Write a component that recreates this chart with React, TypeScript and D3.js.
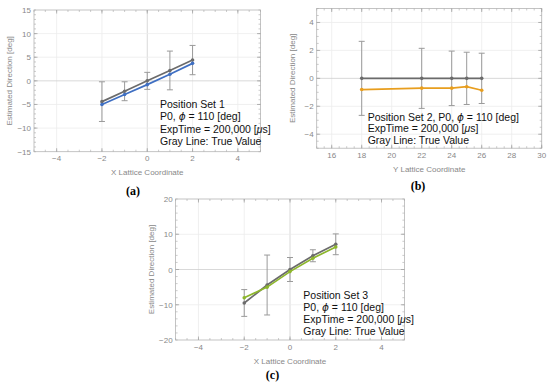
import React from "react";
import * as d3 from "d3";

// ---------- data ----------
const xA = [-2, -1, 0, 1, 2];
const trueA = [-4.4, -2.2, 0, 2.2, 4.4];
const estA = [-5.0, -2.9, -0.8, 1.4, 3.7];
const errA = [4.2, 2.0, 1.8, 4.1, 3.1];

const xB = [18, 22, 24, 25, 26];
const trueB = [0, 0, 0, 0, 0];
const estB = [-0.8, -0.7, -0.7, -0.6, -0.85];
const errB = [2.65, 2.15, 1.95, 1.87, 1.8];

const xC = [-2, -1, 0, 1, 2];
const trueC = [-9.5, -4.4, 0, 3.9, 7.15];
const estC = [-8.0, -5.0, -0.6, 3.2, 6.4];
const errC = [3.8, 8.5, 3.4, 1.7, 2.95];

const textA = ["Position Set 1", "P0, ϕ = 110 [deg]", "ExpTime = 200,000 [μs]", "Gray Line: True Value"];
const textB = ["Position Set 2, P0, ϕ = 110 [deg]", "ExpTime = 200,000 [μs]", "Gray Line: True Value"];
const textC = ["Position Set 3", "P0, ϕ = 110 [deg]", "ExpTime = 200,000 [μs]", "Gray Line: True Value"];

const SANS = "Liberation Sans, Arial, sans-serif";

function RichLine({ s }: { s: string }) {
  const parts = s.split(/(ϕ|μ)/);
  return (
    <>
      {parts.map((p, i) =>
        p === "ϕ" ? (
          <tspan key={i} fontStyle="italic" fontFamily="DejaVu Sans, sans-serif">{p}</tspan>
        ) : p === "μ" ? (
          <tspan key={i} fontStyle="italic">{p}</tspan>
        ) : (
          <tspan key={i}>{p}</tspan>
        )
      )}
    </>
  );
}

type PanelProps = {
  frame: [number, number, number, number];
  xDom: [number, number];
  yDom: [number, number];
  xMajor: number[];
  xMinor: number[];
  yMajor: number[];
  yLabels: number[];
  yMinor: number[];
  xs: number[];
  truth: number[];
  est: number[];
  err: number[];
  color: string;
  xLabel: string;
  xLabelY: number;
  lines: string[];
  textX: number;
  textY: number;
  textGap: number;
  tag: string;
  tagX: number;
  tagY: number;
};

function Panel(p: PanelProps) {
  const [x0, y0, x1, y1] = p.frame;
  const x = d3.scaleLinear().domain(p.xDom).range([x0, x1]);
  const y = d3.scaleLinear().domain(p.yDom).range([y1, y0]);
  const line = d3
    .line<[number, number]>()
    .x((d) => x(d[0]))
    .y((d) => y(d[1]));
  const truePts = p.xs.map((v, i) => [v, p.truth[i]] as [number, number]);
  const estPts = p.xs.map((v, i) => [v, p.est[i]] as [number, number]);
  const fmt = (v: number) => (v < 0 ? "\u2212" + Math.abs(v) : String(v));
  const midX = (x0 + x1) / 2;
  const midY = (y0 + y1) / 2;
  return (
    <g>
      {p.xMajor.map((v) => (
        <line key={"gx" + v} x1={x(v)} x2={x(v)} y1={y0} y2={y1}
          stroke={v === 0 ? "#cfcfcf" : "#ececec"} strokeWidth={0.8} />
      ))}
      {p.yMajor.map((v) => (
        <line key={"gy" + v} x1={x0} x2={x1} y1={y(v)} y2={y(v)}
          stroke={v === 0 ? "#cfcfcf" : "#ececec"} strokeWidth={0.8} />
      ))}
      <rect x={x0} y={y0} width={x1 - x0} height={y1 - y0} fill="none" stroke="#b5b5b5" strokeWidth={0.8} />
      {p.xMajor.map((v) => (
        <g key={"tx" + v}>
          <line x1={x(v)} x2={x(v)} y1={y1} y2={y1 - 3.5} stroke="#999" strokeWidth={0.7} />
          <line x1={x(v)} x2={x(v)} y1={y0} y2={y0 + 3.5} stroke="#999" strokeWidth={0.7} />
        </g>
      ))}
      {p.xMinor.map((v) => (
        <g key={"mx" + v}>
          <line x1={x(v)} x2={x(v)} y1={y1} y2={y1 - 2} stroke="#aaa" strokeWidth={0.6} />
          <line x1={x(v)} x2={x(v)} y1={y0} y2={y0 + 2} stroke="#aaa" strokeWidth={0.6} />
        </g>
      ))}
      {p.yMajor.map((v) => (
        <g key={"ty" + v}>
          <line x1={x0} x2={x0 + 3.5} y1={y(v)} y2={y(v)} stroke="#999" strokeWidth={0.7} />
          <line x1={x1} x2={x1 - 3.5} y1={y(v)} y2={y(v)} stroke="#999" strokeWidth={0.7} />
        </g>
      ))}
      {p.yMinor.map((v) => (
        <g key={"my" + v}>
          <line x1={x0} x2={x0 + 2} y1={y(v)} y2={y(v)} stroke="#aaa" strokeWidth={0.6} />
          <line x1={x1} x2={x1 - 2} y1={y(v)} y2={y(v)} stroke="#aaa" strokeWidth={0.6} />
        </g>
      ))}
      {p.xMajor.map((v) => (
        <text key={"lx" + v} x={x(v)} y={y1 + 9.5} fontSize={8} fill="#888" textAnchor="middle" fontFamily={SANS}>
          {fmt(v)}
        </text>
      ))}
      {p.yLabels.map((v) => (
        <text key={"ly" + v} x={x0 - 3} y={y(v) + 3} fontSize={8} fill="#888" textAnchor="end" fontFamily={SANS}>
          {fmt(v)}
        </text>
      ))}
      <text x={midX} y={p.xLabelY} fontSize={8} fill="#888" textAnchor="middle" fontFamily={SANS}>
        {p.xLabel}
      </text>
      <text transform={`translate(${x0 - 22},${midY}) rotate(-90)`} fontSize={8} fill="#888" textAnchor="middle" fontFamily={SANS}>
        Estimated Direction [deg]
      </text>
      {p.xs.map((v, i) => {
        const cx = x(v);
        const top = y(p.truth[i] + p.err[i]);
        const bot = y(p.truth[i] - p.err[i]);
        return (
          <g key={"e" + i} stroke="#9a9a9a" strokeWidth={1}>
            <line x1={cx} x2={cx} y1={top} y2={bot} />
            <line x1={cx - 3} x2={cx + 3} y1={top} y2={top} />
            <line x1={cx - 3} x2={cx + 3} y1={bot} y2={bot} />
          </g>
        );
      })}
      <path d={line(truePts) || ""} fill="none" stroke="#6b6b6b" strokeWidth={1.7} />
      {truePts.map((d, i) => (
        <circle key={"tp" + i} cx={x(d[0])} cy={y(d[1])} r={1.8} fill="#6b6b6b" />
      ))}
      <path d={line(estPts) || ""} fill="none" stroke={p.color} strokeWidth={1.7} />
      {estPts.map((d, i) => (
        <circle key={"ep" + i} cx={x(d[0])} cy={y(d[1])} r={1.8} fill={p.color} />
      ))}
      {p.lines.map((s, i) => (
        <text key={"t" + i} x={p.textX} y={p.textY + i * p.textGap} fontSize={10.5} fill="#111" fontFamily={SANS}>
          <RichLine s={s} />
        </text>
      ))}
      <text x={p.tagX} y={p.tagY} fontSize={12} fontWeight="bold" textAnchor="middle" fill="#000" fontFamily="Liberation Serif, Times New Roman, serif">
        {p.tag}
      </text>
    </g>
  );
}

const range = (a: number, b: number, s: number) => d3.range(a, b + s / 2, s).map((v) => Math.round(v * 100) / 100);

export default function App() {
  return (
    <svg width={550} height={384} style={{ position: "absolute", left: 0, top: 0, background: "#fff" }}>
      <Panel
        frame={[34, 10, 260.5, 151.7]}
        xDom={[-5, 5]}
        yDom={[-15, 15]}
        xMajor={[-4, -2, 0, 2, 4]}
        xMinor={range(-5, 5, 0.5)}
        yMajor={[-10, -5, 0, 5, 10]}
        yLabels={[-15, -10, -5, 0, 5, 10, 15]}
        yMinor={range(-15, 15, 1)}
        xs={xA}
        truth={trueA}
        est={estA}
        err={errA}
        color="#3f6fc2"
        xLabel="X Lattice Coordinate"
        xLabelY={174.5}
        lines={textA}
        textX={160}
        textY={108}
        textGap={12.3}
        tag="(a)"
        tagX={133}
        tagY={195}
      />
      <Panel
        frame={[316.7, 8.5, 541.7, 148.2]}
        xDom={[15, 30]}
        yDom={[-5, 5]}
        xMajor={[16, 18, 20, 22, 24, 26, 28, 30]}
        xMinor={range(15, 30, 0.5)}
        yMajor={[-4, -2, 0, 2, 4]}
        yLabels={[-4, -2, 0, 2, 4]}
        yMinor={range(-5, 5, 0.5)}
        xs={xB}
        truth={trueB}
        est={estB}
        err={errB}
        color="#e89e1e"
        xLabel="Y Lattice Coordinate"
        xLabelY={172}
        lines={textB}
        textX={367.7}
        textY={120.5}
        textGap={11.8}
        tag="(b)"
        tagX={418}
        tagY={190}
      />
      <Panel
        frame={[175.6, 199, 404.4, 340]}
        xDom={[-5, 5]}
        yDom={[-20, 20]}
        xMajor={[-4, -2, 0, 2, 4]}
        xMinor={range(-5, 5, 0.5)}
        yMajor={[-10, 0, 10]}
        yLabels={[-20, -10, 0, 10, 20]}
        yMinor={range(-20, 20, 2)}
        xs={xC}
        truth={trueC}
        est={estC}
        err={errC}
        color="#8db62c"
        xLabel="X Lattice Coordinate"
        xLabelY={364}
        lines={textC}
        textX={303.3}
        textY={298.5}
        textGap={12.1}
        tag="(c)"
        tagX={272.5}
        tagY={379}
      />
    </svg>
  );
}
